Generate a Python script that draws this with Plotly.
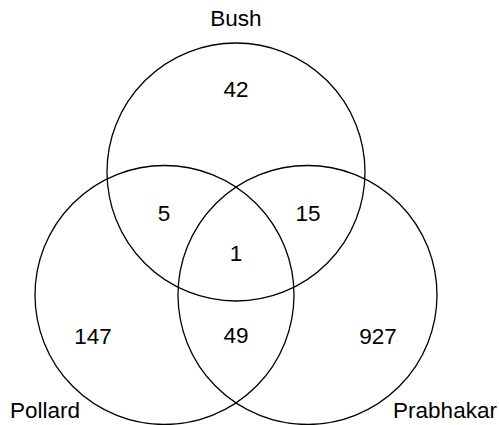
import plotly.graph_objects as go

# Data
set_names = ["Bush", "Pollard", "Prabhakar"]
region_labels = ["Bush only", "Bush&Pollard", "Bush&Prabhakar", "All", "Pollard only", "Pollard&Prabhakar", "Prabhakar only"]
region_counts = [42, 5, 15, 1, 147, 49, 927]

# Layout geometry (pixel-like coordinate system)
circle_cx = [236, 164.5, 307.5]
circle_cy = [172, 295, 295]
circle_r = [129, 129.5, 129.5]
name_x = [236, 45, 445]
name_y = [20, 412, 412]
count_x = [236, 164, 308, 236, 93, 236, 378]
count_y = [91, 215, 215, 255, 338, 337, 338]

fig = go.Figure()

for cx, cy, r in zip(circle_cx, circle_cy, circle_r):
    fig.add_shape(type="circle", xref="x", yref="y",
                  x0=cx - r, x1=cx + r, y0=cy - r, y1=cy + r,
                  line=dict(color="black", width=1.3), fillcolor="rgba(0,0,0,0)")

font = dict(family="Liberation Sans, Arial, sans-serif", size=22.5, color="black")

fig.add_trace(go.Scatter(x=count_x, y=count_y, mode="text",
                         text=[str(v) for v in region_counts],
                         textfont=font, textposition="middle center",
                         cliponaxis=False,
                         hoverinfo="skip", showlegend=False))
fig.add_trace(go.Scatter(x=name_x, y=name_y, mode="text",
                         text=set_names, textfont=font,
                         textposition="middle center",
                         cliponaxis=False,
                         hoverinfo="skip", showlegend=False))

fig.update_layout(
    width=499, height=425,
    margin=dict(l=0, r=0, t=0, b=0),
    paper_bgcolor="white", plot_bgcolor="white",
    xaxis=dict(range=[0, 499], visible=False, fixedrange=True),
    yaxis=dict(range=[425, 0], visible=False, fixedrange=True),
    showlegend=False,
)

fig.write_html("out.html", config={"displayModeBar": False},
               post_script="document.body.style.margin='0';document.body.style.overflow='hidden';")
